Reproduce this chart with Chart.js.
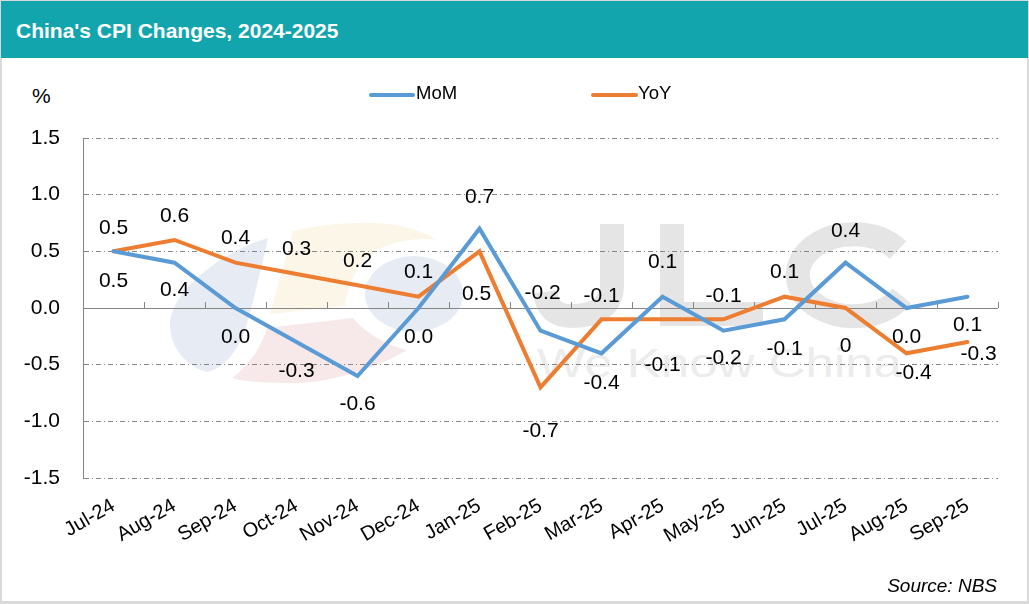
<!DOCTYPE html>
<html>
<head>
<meta charset="utf-8">
<script src="https://cdn.jsdelivr.net/npm/chart.js@4/dist/chart.umd.min.js"></script>
<style>
  html, body { margin: 0; padding: 0; background: #fff; }
  #wrap { position: relative; width: 1029px; height: 604px; overflow: hidden; background: #fff; font-family: "Liberation Sans", Arial, sans-serif; }
  #frame { position: absolute; left: 0; top: 0; right: 0; bottom: 0; border: solid #d9d9d9; border-width: 1px 2px 3px 2px; }
  #head { position: absolute; left: 1px; right: 1px; top: 1px; height: 57px; background: #12a5ad; color: #fff; font-weight: bold; font-size: 21px; line-height: 60px; padding-left: 15px; }
  #unit { position: absolute; left: 32px; top: 84px; font-size: 21px; color: #000; }
  #source { position: absolute; right: 32px; top: 575px; font-size: 19px; font-style: italic; color: #000; }
  #mark { position: absolute; left: 0; top: 0; }
  canvas { position: absolute; left: 0; top: 0; }
</style>
</head>
<body>
<div id="wrap">
  <div id="frame"></div>
  <svg id="mark" width="1029" height="604">
    <path fill="#e7ebf4" d="M268 238 C225 250 170 290 170 325 C170 350 190 368 207 372 C225 368 240 350 248 320 C255 295 262 265 268 238 Z"/>
    <path fill="#fbf6e8" d="M293 231 C330 222 400 215 437 240 C410 236 380 245 365 258 C355 270 347 290 345 306 L270 314 Z"/>
    <path fill="#f7e9e9" d="M267 328 L353 318 C362 330 385 345 407 350 C370 372 320 385 283 383 C265 383 245 382 232 378 C250 365 262 345 267 328 Z"/>
    <ellipse fill="#e7ebf4" cx="414" cy="294" rx="49" ry="38"/>
    <g fill="none" stroke="#e5e5e5" stroke-width="24">
      <path d="M612 224 V285 C612 310 590 316 572 316 C555 316 547 308 545 292"/>
      <path d="M672 224 V314 H763"/>
      <path d="M898 250 A56 41 0 1 0 902 296"/>
    </g>
    <text x="537" y="377" font-family="Liberation Sans" font-size="40" fill="#ececec" textLength="365" lengthAdjust="spacingAndGlyphs">We Know China</text>
  </svg>
  <div id="head">China's CPI Changes, 2024-2025</div>
  <div id="unit">%</div>
  <canvas id="chart" width="1029" height="604"></canvas>
  <div id="source">Source: NBS</div>
</div>
<script>
const months = ["Jul-24","Aug-24","Sep-24","Oct-24","Nov-24","Dec-24","Jan-25","Feb-25","Mar-25","Apr-25","May-25","Jun-25","Jul-25","Aug-25","Sep-25"]
const mom = [0.5,0.4,0,-0.3,-0.6,0,0.7,-0.2,-0.4,0.1,-0.2,-0.1,0.4,0,0.1]
const yoy = [0.5,0.6,0.4,0.3,0.2,0.1,0.5,-0.7,-0.1,-0.1,-0.1,0.1,0,-0.4,-0.3]
const momText = ["0.5","0.4","0.0","-0.3","-0.6","0.0","0.7","-0.2","-0.4","0.1","-0.2","-0.1","0.4","0.0","0.1"]
const yoyText = ["0.5","0.6","0.4","0.3","0.2","0.1","0.5","-0.7","-0.1","-0.1","-0.1","0.1","0","-0.4","-0.3"]

// hand placed label nudges from the point, [dx, dy]
const momNudge = [[0,30],[0,28],[0,29],[0,29],[0,28],[0,29],[0,-31],[2,-37],[0,30],[0,-34],[0,28],[0,30],[0,-31],[0,29],[0,29]]
const yoyNudge = [[0,-23],[0,-24],[0,-24],[0,-25],[0,-24],[0,-24],[-3,43],[0,44],[0,-23],[0,46],[0,-23],[0,-24],[0,38],[7,20],[11,12]]

const blue = "#5b9bd5"
const orange = "#ed7d31"
const axisGrey = "#868686"

const labelsPlugin = {
  id: "valueLabels",
  afterDatasetsDraw(chart){
    const { ctx, scales: { x, y } } = chart
    ctx.save()
    ctx.font = '21px "Liberation Sans"'
    ctx.fillStyle = "#000"
    ctx.textAlign = "center"
    ctx.textBaseline = "middle"
    months.forEach((m, i)=>{
      ctx.fillText(momText[i], x.getPixelForValue(i) + momNudge[i][0], y.getPixelForValue(mom[i]) + momNudge[i][1])
      ctx.fillText(yoyText[i], x.getPixelForValue(i) + yoyNudge[i][0], y.getPixelForValue(yoy[i]) + yoyNudge[i][1])
    })
    ctx.restore()
  }
}

// tick marks stand on the zero line, between the months
const zeroTicks = {
  id: "zeroTicks",
  beforeDatasetsDraw(chart){
    const { ctx, chartArea, scales: { x, y } } = chart
    const step = chartArea.width / months.length
    const zero = y.getPixelForValue(0)
    ctx.save()
    ctx.strokeStyle = axisGrey
    ctx.lineWidth = 1
    ctx.beginPath()
    for(let i = 1; i <= months.length; i++){
      const px = Math.round(chartArea.left + i * step) + 0.5
      ctx.moveTo(px, zero)
      ctx.lineTo(px, zero - 6)
    }
    ctx.stroke()
    ctx.restore()
  }
}

const legendPlugin = {
  id: "topLegend",
  afterDraw(chart){
    const { ctx } = chart
    const spots = [[371, 413, 416], [593, 636, 638]]
    ctx.save()
    ctx.font = '18.5px "Liberation Sans"'
    ctx.textBaseline = "middle"
    ctx.lineCap = "round"
    ctx.lineWidth = 4
    chart.data.datasets.forEach((d, i)=>{
      ctx.strokeStyle = d.borderColor
      ctx.beginPath()
      ctx.moveTo(spots[i][0], 95)
      ctx.lineTo(spots[i][1], 95)
      ctx.stroke()
      ctx.fillStyle = "#000"
      ctx.fillText(d.label, spots[i][2], 94)
    })
    ctx.restore()
  }
}

new Chart(document.getElementById("chart"), {
  type: "line",
  data: {
    labels: months,
    datasets: [
      { label: "MoM", data: mom, borderColor: blue, borderWidth: 4, pointRadius: 0, tension: 0, borderCapStyle: "round" },
      { label: "YoY", data: yoy, borderColor: orange, borderWidth: 4, pointRadius: 0, tension: 0, borderCapStyle: "round" },
    ],
  },
  plugins: [zeroTicks, labelsPlugin, legendPlugin],
  options: {
    responsive: false,
    animation: false,
    devicePixelRatio: 1,
    layout: { padding: { left: 0, right: 31, top: 138, bottom: 0 } },
    plugins: { legend: { display: false }, tooltip: { enabled: false } },
    scales: {
      x: {
        offset: true,
        grid: { display: false },
        border: { display: false },
        afterFit(scale){ scale.height = 126 },
        ticks: { color: "#000", font: { family: "Liberation Sans", size: 20 }, minRotation: 30, maxRotation: 30, autoSkip: false, padding: 8 },
      },
      y: {
        min: -1.5,
        max: 1.5,
        afterFit(scale){ scale.width = 83 },
        border: {
          color: axisGrey,
          dash: (c)=> c.tick && c.tick.value === 0 ? [] : [5, 3, 1, 3],
        },
        grid: {
          color: axisGrey,
          drawTicks: false,
        },
        ticks: {
          stepSize: 0.5,
          color: "#000",
          padding: 23,
          font: { family: "Liberation Sans", size: 21 },
          callback: (v)=> v.toFixed(1),
        },
      },
    },
  },
})
</script>
</body>
</html>
